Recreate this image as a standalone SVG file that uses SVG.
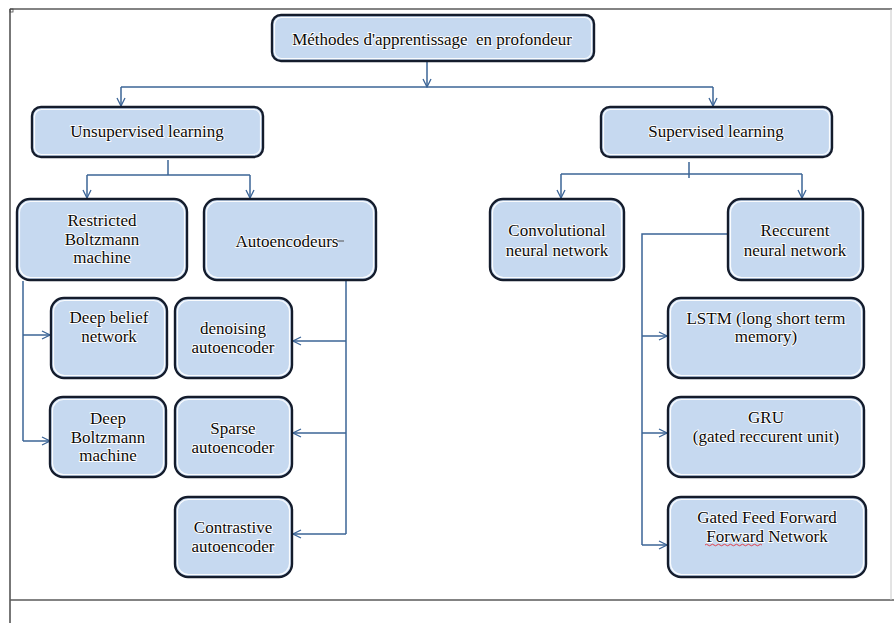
<svg xmlns="http://www.w3.org/2000/svg" width="894" height="623" viewBox="0 0 894 623">
  <defs>
    <marker id="chev" viewBox="0 0 10 10" refX="9" refY="5" markerWidth="10" markerHeight="10" markerUnits="userSpaceOnUse" orient="auto">
      <path d="M1,1 L9,5 L1,9" fill="none" stroke="#3b6496" stroke-width="1.3"/>
    </marker>
  </defs>
  <style>
    .box { fill: #c6d9f0; stroke: #141c2c; stroke-width: 2.4; }
    .inner { fill: none; stroke: #ffffff; stroke-width: 1.2; opacity: 0.9; }
    .lbl { font-family: "Liberation Serif", "Times New Roman", serif; font-size: 17px; fill: #0a0a0a; text-anchor: middle; stroke: #ffffff; stroke-width: 1.8; paint-order: stroke; stroke-linejoin: round; white-space: pre; }
    .wire { fill: none; stroke: #3b6496; stroke-width: 1.5; }
    .arrow { marker-end: url(#chev); }
  </style>

  <rect width="894" height="623" fill="#ffffff"/>

  <!-- page frame -->
  <g id="frame" fill="none">
    <line x1="10" y1="9" x2="892" y2="9" stroke="#5a5a5a" stroke-width="1.5"/>
    <line x1="10" y1="9" x2="10" y2="623" stroke="#4a4a4a" stroke-width="1.5"/>
    <line x1="10" y1="600" x2="894" y2="600" stroke="#5a5a5a" stroke-width="1.5"/>
    <line x1="891" y1="9" x2="891" y2="600" stroke="#c8c8c8" stroke-width="1"/>
    <rect x="10" y="9" width="3" height="3" stroke="#4a4a4a" stroke-width="0.8"/>
  </g>

  <!-- connectors -->
  <g id="connectors">
    <line class="wire arrow" x1="427" y1="61" x2="427" y2="87"/>
    <polyline class="wire" points="121,87 713,87"/>
    <line class="wire arrow" x1="121" y1="87" x2="121" y2="106"/>
    <line class="wire arrow" x1="713" y1="87" x2="713" y2="106"/>

    <line class="wire" x1="168" y1="160" x2="168" y2="175"/>
    <polyline class="wire" points="87,175 250,175"/>
    <line class="wire arrow" x1="87" y1="175" x2="87" y2="198"/>
    <line class="wire arrow" x1="250" y1="175" x2="250" y2="198"/>

    <line class="wire" x1="689" y1="162" x2="689" y2="178"/>
    <polyline class="wire" points="561,174 802,174"/>
    <line class="wire arrow" x1="561" y1="174" x2="561" y2="198"/>
    <line class="wire arrow" x1="802" y1="174" x2="802" y2="198"/>

    <polyline class="wire" points="23,281 23,441"/>
    <line class="wire arrow" x1="23" y1="335" x2="50" y2="335"/>
    <line class="wire arrow" x1="23" y1="441" x2="50" y2="441"/>

    <polyline class="wire" points="346,281 346,534"/>
    <line class="wire arrow" x1="346" y1="341" x2="293" y2="341"/>
    <line class="wire arrow" x1="346" y1="433" x2="293" y2="433"/>
    <line class="wire arrow" x1="346" y1="534" x2="293" y2="534"/>

    <polyline class="wire" points="727,234 642,234 642,545"/>
    <line class="wire arrow" x1="642" y1="336" x2="667" y2="336"/>
    <line class="wire arrow" x1="642" y1="433" x2="667" y2="433"/>
    <line class="wire arrow" x1="642" y1="545" x2="667" y2="545"/>
  </g>

  <g id="root">
    <rect class="box" x="272" y="15" width="322" height="46" rx="9"/>
    <rect class="inner" x="274.5" y="17.5" width="317" height="41" rx="7"/>
    <text class="lbl" x="432" y="45" xml:space="preserve">Méthodes d'apprentissage  en profondeur</text>
  </g>

  <g id="unsupervised">
    <rect class="box" x="32" y="107" width="231" height="50" rx="9"/>
    <rect class="inner" x="34.5" y="109.5" width="226" height="45" rx="7"/>
    <text class="lbl" x="147" y="137">Unsupervised learning</text>
  </g>

  <g id="supervised">
    <rect class="box" x="601" y="107" width="231" height="50" rx="9"/>
    <rect class="inner" x="603.5" y="109.5" width="226" height="45" rx="7"/>
    <text class="lbl" x="716" y="137">Supervised learning</text>
  </g>

  <g id="rbm">
    <rect class="box" x="17" y="199" width="170" height="81" rx="13"/>
    <rect class="inner" x="19.5" y="201.5" width="165" height="76" rx="11"/>
    <text class="lbl" x="102" y="226">Restricted</text>
    <text class="lbl" x="102" y="245">Boltzmann</text>
    <text class="lbl" x="102" y="263">machine</text>
  </g>

  <g id="autoencodeurs">
    <rect class="box" x="204" y="199" width="172" height="81" rx="13"/>
    <rect class="inner" x="206.5" y="201.5" width="167" height="76" rx="11"/>
    <text class="lbl" x="287" y="247">Autoencodeurs</text>
    <line x1="337" y1="241" x2="344" y2="241" stroke="#555555" stroke-width="1"/>
  </g>

  <g id="deep-belief">
    <rect class="box" x="51" y="298" width="116" height="80" rx="13"/>
    <rect class="inner" x="53.5" y="300.5" width="111" height="75" rx="11"/>
    <text class="lbl" x="109" y="323">Deep belief</text>
    <text class="lbl" x="109" y="342">network</text>
  </g>

  <g id="denoising">
    <rect class="box" x="175" y="298" width="117" height="80" rx="13"/>
    <rect class="inner" x="177.5" y="300.5" width="112" height="75" rx="11"/>
    <text class="lbl" x="233" y="334">denoising</text>
    <text class="lbl" x="233" y="353">autoencoder</text>
  </g>

  <g id="deep-boltzmann">
    <rect class="box" x="50" y="397" width="116" height="80" rx="13"/>
    <rect class="inner" x="52.5" y="399.5" width="111" height="75" rx="11"/>
    <text class="lbl" x="108" y="424">Deep</text>
    <text class="lbl" x="108" y="443">Boltzmann</text>
    <text class="lbl" x="108" y="461">machine</text>
  </g>

  <g id="sparse">
    <rect class="box" x="175" y="397" width="117" height="80" rx="13"/>
    <rect class="inner" x="177.5" y="399.5" width="112" height="75" rx="11"/>
    <text class="lbl" x="233" y="434">Sparse</text>
    <text class="lbl" x="233" y="453">autoencoder</text>
  </g>

  <g id="contrastive">
    <rect class="box" x="175" y="497" width="117" height="80" rx="13"/>
    <rect class="inner" x="177.5" y="499.5" width="112" height="75" rx="11"/>
    <text class="lbl" x="233" y="533">Contrastive</text>
    <text class="lbl" x="233" y="552">autoencoder</text>
  </g>

  <g id="convolutional">
    <rect class="box" x="490" y="199" width="134" height="81" rx="13"/>
    <rect class="inner" x="492.5" y="201.5" width="129" height="76" rx="11"/>
    <text class="lbl" x="557" y="236">Convolutional</text>
    <text class="lbl" x="557" y="256">neural network</text>
  </g>

  <g id="recurrent">
    <rect class="box" x="728" y="199" width="135" height="81" rx="13"/>
    <rect class="inner" x="730.5" y="201.5" width="130" height="76" rx="11"/>
    <text class="lbl" x="795" y="236">Reccurent</text>
    <text class="lbl" x="795" y="256">neural network</text>
  </g>

  <g id="lstm">
    <rect class="box" x="668" y="298" width="196" height="80" rx="13"/>
    <rect class="inner" x="670.5" y="300.5" width="191" height="75" rx="11"/>
    <text class="lbl" x="766" y="324">LSTM (long short term</text>
    <text class="lbl" x="766" y="342">memory)</text>
  </g>

  <g id="gru">
    <rect class="box" x="668" y="397" width="196" height="80" rx="13"/>
    <rect class="inner" x="670.5" y="399.5" width="191" height="75" rx="11"/>
    <text class="lbl" x="766" y="423">GRU</text>
    <text class="lbl" x="766" y="442">(gated reccurent unit)</text>
  </g>

  <g id="gated-ffn">
    <rect class="box" x="668" y="497" width="198" height="80" rx="13"/>
    <rect class="inner" x="670.5" y="499.5" width="193" height="75" rx="11"/>
    <text class="lbl" x="767" y="523">Gated Feed Forward</text>
    <text class="lbl" x="767" y="542">Forward Network</text>
    <path d="M705,545 q1.5,-1.5 3,0 t3,0 t3,0 t3,0 t3,0 t3,0 t3,0 t3,0 t3,0 t3,0 t3,0 t3,0 t3,0 t3,0 t3,0 t3,0 t3,0 t3,0 t3,0" fill="none" stroke="#e0303a" stroke-width="0.9"/>
  </g>
</svg>
